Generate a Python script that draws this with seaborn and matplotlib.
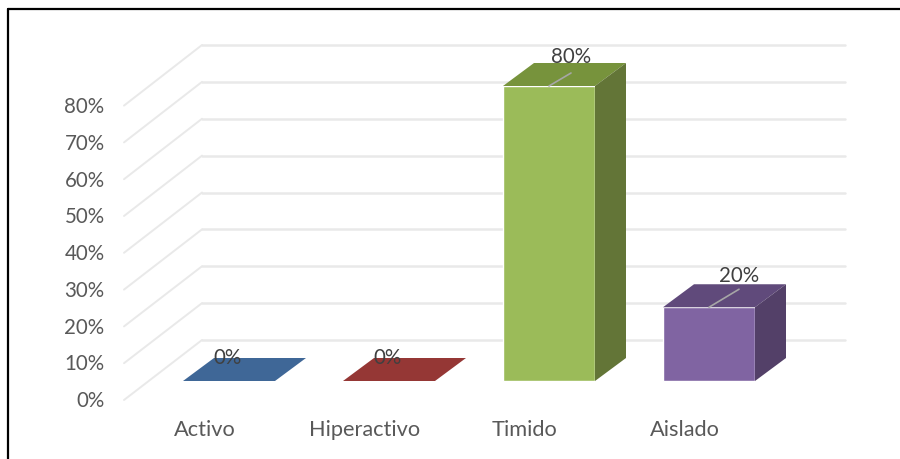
import matplotlib
matplotlib.use('Agg')
import pandas as pd
import seaborn as sns
from matplotlib import pyplot as plt
from matplotlib.patches import Polygon

categories = ['Activo', 'Hiperactivo', 'Timido', 'Aislado']
values = [0, 0, 80, 20]
front_colors = ['#3F6797', '#953735', '#9BBB59', '#8064A2']
top_colors = ['#3F6797', '#953735', '#77933C', '#604A7B']
side_colors = ['#324F75', '#722B29', '#637537', '#534068']
y_ticks = [0, 10, 20, 30, 40, 50, 60, 70, 80]

W, H = 900, 459
PX_PER_PCT = 3.6875
BAR_STEP = 160
DEPTH_X = 31 / BAR_STEP
DEPTH_Y = 23 / PX_PER_PCT
GRID = '#E9E9E9'
TEXT = '#595959'

sns.set_style('white')
plt.rcParams['font.family'] = ['Lato', 'DejaVu Sans']

df = pd.DataFrame({'cat': categories, 'val': values})

fig = plt.figure(figsize=(W / 100, H / 100), dpi=100)

def axes_px(x0, y0, x1, y1):
    # pixel box, y measured from the top of the picture
    a = fig.add_axes([x0 / W, 1 - y1 / H, (x1 - x0) / W, (y1 - y0) / H])
    a.patch.set_alpha(0)
    sns.despine(ax=a, left=True, bottom=True)
    return a

# back wall with the gridlines
wall = axes_px(202, 45, 845, 340)
wall.set_ylim(0, 80)
wall.set_xlim(0, 1)
wall.set_yticks(y_ticks)
wall.set_xticks([])
wall.tick_params(left=False, labelleft=False)
wall.grid(axis='y', color=GRID, lw=1.8)
wall.set_axisbelow(True)
for gl in wall.get_ygridlines():
    gl.set_clip_on(False)

# tick labels sit on the front edge of the floor
labels = axes_px(124, 105, 845, 399)
labels.set_ylim(0, 80)
labels.set_xlim((124 - 205) / BAR_STEP, (845 - 205) / BAR_STEP)
labels.set_yticks(y_ticks)
labels.set_yticklabels([f'{t}%' for t in y_ticks], color=TEXT, fontsize=14.8)
labels.set_xticks(range(len(categories)))
labels.set_xticklabels(categories, color=TEXT, fontsize=15.7)
labels.tick_params(axis='y', length=0, pad=14)
labels.tick_params(axis='x', length=0, pad=15)
labels.set_xticks([])
labels.set_xticks(range(len(categories)), labels=categories, color=TEXT, fontsize=15.7)

# slanted side wall lines, one per tick
for t in y_ticks:
    labels.annotate('', xy=(202, H - (340 - t * PX_PER_PCT)), xycoords='figure pixels',
                    xytext=(124, H - (400 - t * 3.68)), textcoords='figure pixels',
                    arrowprops=dict(arrowstyle='-', color=GRID, lw=1.4, shrinkA=0, shrinkB=0))

# bars, same scale as picture pixels
ax = axes_px(0, 0, W, H)
sns.barplot(data=df, x='cat', y='val', hue='cat', palette=front_colors, order=categories,
            hue_order=categories, width=92 / BAR_STEP, saturation=1, legend=False,
            dodge=False, ax=ax)
ax.set_xlim(-229 / BAR_STEP, (W - 229) / BAR_STEP)
ax.set_ylim(-(H - 381) / PX_PER_PCT, 381 / PX_PER_PCT)
ax.set_xlabel('')
ax.set_ylabel('')
ax.set_xticks([])
ax.set_yticks([])

half = 46 / BAR_STEP
for i, v in enumerate(values):
    ax.add_patch(Polygon([(i - half, v), (i + half, v), (i + half + DEPTH_X, v + DEPTH_Y),
                          (i - half + DEPTH_X, v + DEPTH_Y)], color=top_colors[i], lw=0))
    if v > 0:
        ax.add_patch(Polygon([(i + half, 0), (i + half, v), (i + half + DEPTH_X, v + DEPTH_Y),
                              (i + half + DEPTH_X, DEPTH_Y)], color=side_colors[i], lw=0))
        # leader line up to the data label
        lift = 18 if v == 20 else 13
        run = 30 if v == 20 else 22
        ax.plot([i, i + run / BAR_STEP], [v, v + lift / PX_PER_PCT], color='#A6A6A6', lw=1.2)
        ax.text(i + run / BAR_STEP, v + (lift + (13 if v == 20 else 16)) / PX_PER_PCT, f'{v}%',
                ha='center', va='center', fontsize=14.8, color='#404040')
    else:
        ax.text(i - 1 / BAR_STEP, 23 / PX_PER_PCT, f'{v}%', ha='center', va='center',
                fontsize=14.8, color='#404040')

# outer frame of the picture, open on the right and at the bottom
frame_left = (8 - 229) / BAR_STEP
frame_top = (381 - 9) / PX_PER_PCT
ax.plot([frame_left, frame_left], [-(H - 381) / PX_PER_PCT, frame_top], color='black', lw=1.6)
ax.plot([frame_left, (W - 229) / BAR_STEP], [frame_top, frame_top], color='black', lw=1.6)

fig.savefig('out.png', dpi=100)
